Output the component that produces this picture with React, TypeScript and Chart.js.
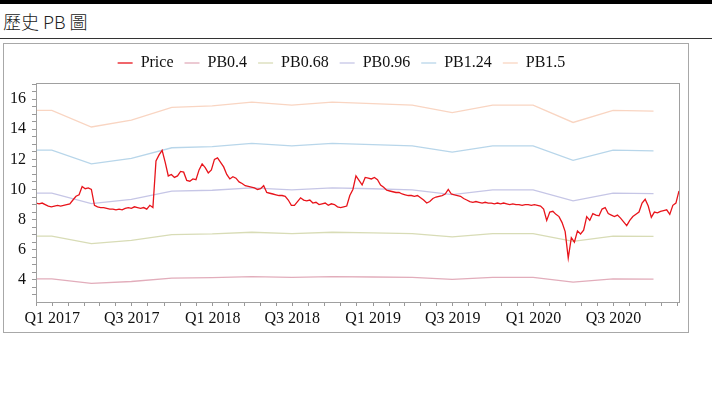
import React, { useEffect, useRef } from "react";
import { Chart, registerables } from "chart.js";

Chart.register(...registerables);

// ---- data ----
const seriesNames = ["Price", "PB0.4", "PB0.68", "PB0.96", "PB1.24", "PB1.5"];

const priceStartDate = "2016-11-25";
const priceStepDays = 7;
const priceValues = [
  9.1, 9.05, 9.1, 9.0, 8.9, 8.85, 8.9, 8.95, 8.9, 8.95,
  9.0, 9.05, 9.3, 9.55, 9.65, 10.2, 10.05, 10.1, 10.0, 8.95,
  8.85, 8.8, 8.8, 8.75, 8.7, 8.7, 8.65, 8.7, 8.65, 8.75,
  8.8, 8.75, 8.85, 8.8, 8.75, 8.8, 8.7, 8.95, 8.8, 11.9,
  12.3, 12.6, 11.8, 10.9, 11.0, 10.8, 10.9, 11.2, 11.15, 10.6,
  10.55, 10.7, 10.65, 11.3, 11.7, 11.45, 11.1, 11.3, 12.0, 12.1,
  11.8, 11.5, 11.0, 10.7, 10.85, 10.75, 10.5, 10.4, 10.25, 10.2,
  10.15, 10.1, 10.0, 10.05, 10.25, 9.8, 9.75, 9.7, 9.65, 9.6,
  9.6, 9.55, 9.3, 8.95, 8.95, 9.2, 9.45, 9.3, 9.25, 9.3,
  9.1, 9.15, 9.0, 9.05, 9.1, 8.95, 9.05, 9.0, 8.85, 8.8,
  8.85, 8.9, 9.6, 10.0, 10.9, 10.6, 10.3, 10.8, 10.75, 10.7,
  10.8, 10.65, 10.3, 10.15, 9.95, 9.9, 9.85, 9.8, 9.8, 9.7,
  9.65, 9.6, 9.6, 9.55, 9.6, 9.45, 9.3, 9.1, 9.2, 9.4,
  9.5, 9.55, 9.6, 9.7, 10.0, 9.7, 9.65, 9.6, 9.55, 9.4,
  9.3, 9.2, 9.15, 9.2, 9.15, 9.1, 9.15, 9.1, 9.1, 9.05,
  9.1, 9.05, 9.1, 9.05, 9.0, 9.05, 9.0, 9.0, 8.95, 9.0,
  9.0, 8.95, 9.0, 8.95, 8.9, 8.7, 7.95, 8.5, 8.55, 8.35,
  8.2, 7.8, 7.2, 5.45, 6.8, 6.5, 7.25, 7.05, 7.3, 8.2,
  7.95, 8.4, 8.3, 8.25, 8.7, 8.8, 8.4, 8.3, 8.2, 8.3,
  8.1, 7.85, 7.6, 7.95, 8.2, 8.35, 8.5, 9.1, 9.35, 8.9,
  8.15, 8.5, 8.45, 8.55, 8.6, 8.65, 8.35, 8.95, 9.1, 9.9,
];

const pbDates = [
  "2016-11-25", "2016-12-31", "2017-03-31", "2017-06-30", "2017-09-30",
  "2017-12-31", "2018-03-31", "2018-06-30", "2018-09-30", "2018-12-31",
  "2019-03-31", "2019-06-30", "2019-09-30", "2019-12-31", "2020-03-31",
  "2020-06-30", "2020-09-30",
];
const pb04 = [4.07, 4.07, 3.77, 3.89, 4.12, 4.15, 4.21, 4.16, 4.21, 4.19, 4.16, 4.03, 4.16, 4.16, 3.85, 4.07, 4.05];
const pb068 = [6.91, 6.91, 6.41, 6.62, 7.0, 7.05, 7.16, 7.07, 7.16, 7.12, 7.07, 6.85, 7.07, 7.07, 6.55, 6.91, 6.89];
const pb096 = [9.76, 9.76, 9.06, 9.34, 9.89, 9.95, 10.11, 9.98, 10.11, 10.05, 9.98, 9.66, 9.98, 9.98, 9.25, 9.76, 9.73];
const pb124 = [12.61, 12.61, 11.7, 12.07, 12.77, 12.85, 13.06, 12.9, 13.06, 12.98, 12.9, 12.48, 12.9, 12.9, 11.94, 12.61, 12.57];
const pb15 = [15.25, 15.25, 14.15, 14.6, 15.45, 15.55, 15.8, 15.6, 15.8, 15.7, 15.6, 15.1, 15.6, 15.6, 14.45, 15.25, 15.2];

const xTickLabels = ["Q1 2017", "Q3 2017", "Q1 2018", "Q3 2018", "Q1 2019", "Q3 2019", "Q1 2020", "Q3 2020"];
const xTickDates = ["2017-01-01", "2017-07-01", "2018-01-01", "2018-07-01", "2019-01-01", "2019-07-01", "2020-01-01", "2020-07-01"];

const yTickLabels = ["4", "6", "8", "10", "12", "14", "16"];
const yMin = 2.53;
const yMax = 17.07;

const seriesColors = ["#e8141b", "#e2adbb", "#d8dcb6", "#c6c6e6", "#b8d6ea", "#f9d5c2"];

// ---- helpers ----
const ORIGIN = Date.parse("2017-01-01T00:00:00Z");
const toDay = (s: string) => (Date.parse(s + "T00:00:00Z") - ORIGIN) / 86400000;

export default function App() {
  const ref = useRef<HTMLCanvasElement | null>(null);

  useEffect(() => {
    if (!ref.current) return;
    const start = toDay(priceStartDate);
    const priceData = priceValues.map((v, i) => ({ x: start + i * priceStepDays, y: v }));
    const pbSeries = [pb04, pb068, pb096, pb124, pb15];
    const pbData = pbSeries.map((arr) => arr.map((v, i) => ({ x: toDay(pbDates[i]), y: v })));
    const xMin = start;
    const xMax = start + (priceValues.length - 1) * priceStepDays;
    const majors = xTickDates.map(toDay);
    const yMajors = yTickLabels.map(Number);

    const legendPad = {
      id: "legendPad",
      afterInit(chart: any) {
        const lg = chart.legend;
        if (!lg) return;
        const orig = lg.fit.bind(lg);
        lg.fit = function () {
          orig();
          this.height += 2;
        };
      },
    };
    const frame = {
      id: "frame",
      afterDraw(chart: any) {
        const { ctx, chartArea: a } = chart;
        ctx.save();
        ctx.strokeStyle = "#a0a0a0";
        ctx.lineWidth = 1;
        ctx.strokeRect(Math.round(a.left) + 0.5, Math.round(a.top) + 0.5, Math.round(a.right - a.left), Math.round(a.bottom - a.top));
        ctx.restore();
      },
    };

    const font = { family: "'Liberation Serif', 'Times New Roman', serif", size: 16 };

    const chart = new Chart(ref.current, {
      type: "line",
      data: {
        datasets: [
          {
            label: seriesNames[0],
            data: priceData,
            borderColor: seriesColors[0],
            backgroundColor: seriesColors[0],
            borderWidth: 1.3,
            pointRadius: 0,
            tension: 0,
          },
          ...pbData.map((d, i) => ({
            label: seriesNames[i + 1],
            data: d,
            borderColor: seriesColors[i + 1],
            backgroundColor: seriesColors[i + 1],
            borderWidth: 1.3,
            pointRadius: 0,
            tension: 0,
          })),
        ],
      },
      options: {
        animation: false,
        responsive: false,
        devicePixelRatio: 1,
        parsing: false as any,
        layout: { padding: { top: 0, left: 0, right: 9, bottom: 0 } },
        plugins: {
          tooltip: { enabled: false },
          legend: {
            position: "top",
            labels: {
              usePointStyle: true,
              pointStyle: "line",
              pointStyleWidth: 15,
              padding: 11,
              color: "#111",
              font,
            },
          },
        },
        scales: {
          x: {
            type: "linear",
            min: xMin,
            max: xMax,
            afterFit: (s: any) => {
              s.height = 30;
            },
            afterBuildTicks: (s: any) => {
              const ticks: any[] = [];
              const st0 = (majors[1] - majors[0]) / 5;
              for (let v = majors[0] - st0; v >= xMin - 0.01; v -= st0) ticks.unshift({ value: v });
              for (let i = 0; i < majors.length; i++) {
                ticks.push({ value: majors[i] });
                if (i < majors.length - 1) {
                  const st = (majors[i + 1] - majors[i]) / 5;
                  for (let k = 1; k < 5; k++) ticks.push({ value: majors[i] + k * st });
                }
              }
              const last = majors[majors.length - 1];
              const stL = (last - majors[majors.length - 2]) / 5;
              for (let v = last + stL; v <= xMax - 3; v += stL) ticks.push({ value: v });
              s.ticks = ticks;
            },
            ticks: {
              autoSkip: false,
              maxRotation: 0,
              padding: 3,
              color: "#111",
              font,
              callback: (value: any) => {
                const i = majors.findIndex((m) => Math.abs(m - Number(value)) < 0.01);
                return i >= 0 ? xTickLabels[i] : "";
              },
            },
            grid: { drawOnChartArea: false, drawTicks: true, tickLength: 4, color: "#999" },
            border: { color: "#a0a0a0" },
          },
          y: {
            type: "linear",
            min: yMin,
            max: yMax,
            afterFit: (s: any) => {
              s.width = 32;
            },
            afterBuildTicks: (s: any) => {
              const ticks: any[] = [];
              for (let v = 3; v <= 17.001; v += 0.5) ticks.push({ value: Math.round(v * 10) / 10 });
              s.ticks = ticks;
            },
            ticks: {
              autoSkip: false,
              padding: 6,
              color: "#111",
              font,
              callback: (value: any) => {
                const v = Number(value);
                const i = yMajors.findIndex((m) => Math.abs(m - v) < 1e-6);
                return i >= 0 ? yTickLabels[i] : "";
              },
            },
            grid: { drawOnChartArea: false, drawTicks: true, tickLength: 4, color: "#999" },
            border: { color: "#a0a0a0" },
          },
        },
      } as any,
      plugins: [legendPad, frame],
    });
    return () => chart.destroy();
  }, []);

  return (
    <div style={{ position: "absolute", left: 0, top: 0, width: 723, height: 396, background: "#fff" }}>
      <div
        style={{
          position: "absolute",
          left: 0,
          top: 0,
          width: 712,
          height: 34,
          borderTop: "4px solid #000",
          borderBottom: "1px solid #333",
        }}
      >
        <div
          style={{
            position: "absolute",
            left: 3,
            top: 5,
            fontFamily: "'Noto Sans CJK TC', 'Noto Sans', sans-serif",
            fontSize: 18,
            lineHeight: "24px",
            fontWeight: 300,
            color: "#222",
          }}
        >
          歷史 PB 圖
        </div>
      </div>
      <div
        style={{
          position: "absolute",
          left: 3,
          top: 43,
          width: 686,
          height: 290,
          border: "1px solid #a8a8a8",
          boxSizing: "border-box",
        }}
      >
        <canvas ref={ref} width={684} height={288} style={{ display: "block", width: 684, height: 288 }} />
      </div>
    </div>
  );
}
